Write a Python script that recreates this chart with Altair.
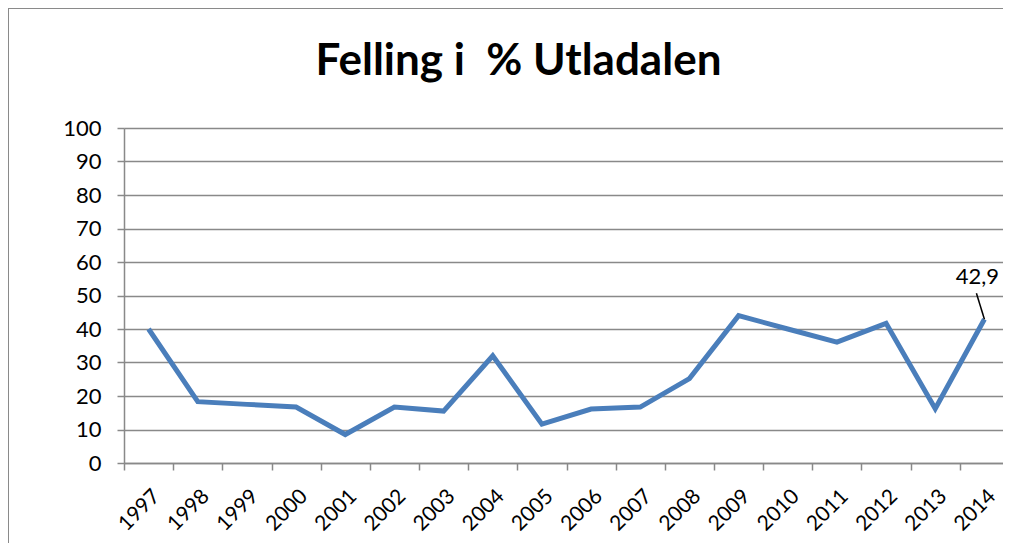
import altair as alt
import pandas as pd

years = list(range(1997, 2015))
values = [40.0, 18.3, 17.5, 16.7, 8.5, 16.7, 15.5, 32.0, 11.6, 16.1, 16.7, 25.2, 44.0, 40.0, 36.1, 41.7, 16.2, 42.9]
label_year = [2014]
label_value = [42.9]
label_text = ["42,9"]

df = pd.DataFrame({"year": years, "value": values})
lab = pd.DataFrame({"yq": label_year, "value": label_value, "text": label_text})

FONT = "Lato"
GRAY = "#898989"

y_scale = alt.Scale(domain=[0, 100], nice=False)
xq_scale = alt.Scale(domain=[years[0] - 0.5, years[-1] + 0.5], nice=False, zero=False)

x_axis = alt.Axis(
    tickBand="extent",
    labelAngle=-45, labelAlign="right", labelBaseline="top",
    labelOverlap=False, labelBound=False,
    labelFont=FONT, labelFontSize=21, labelColor="#000000",
    labelPadding=15, labelOffset=0,
    tickSize=7, tickColor=GRAY, tickWidth=1.5,
    domainColor=GRAY, domainWidth=1.5, grid=False, title=None,
)
y_axis = alt.Axis(
    values=list(range(0, 101, 10)),
    labelOverlap=False,
    labelFont=FONT, labelFontSize=22, labelColor="#000000", labelPadding=16,
    tickSize=7, tickColor=GRAY, tickWidth=1.5,
    domainColor=GRAY, domainWidth=1.5,
    grid=True, gridColor=GRAY, gridWidth=1.5, title=None,
)

frame_top = alt.Chart(lab).mark_rule(stroke="#8a8a8a", strokeWidth=2).encode(
    x=alt.value(-116), x2=alt.value(1200), y=alt.value(-120)
)
frame_left = alt.Chart(lab).mark_rule(stroke="#8a8a8a", strokeWidth=2).encode(
    x=alt.value(-116), y=alt.value(-121), y2=alt.value(700)
)

line = alt.Chart(df).mark_line(color="#4A7EBB", strokeWidth=5, strokeJoin="miter").encode(
    x=alt.X("year:O", scale=alt.Scale(type="band", paddingInner=0, paddingOuter=0),
            bandPosition=0.5, axis=x_axis),
    y=alt.Y("value:Q", scale=y_scale, axis=y_axis),
)

leader = alt.Chart(lab).mark_rule(color="#000000", strokeWidth=1.5, x2Offset=-8, y2Offset=-26).encode(
    x=alt.X("yq:Q", scale=xq_scale, axis=None),
    x2="yq",
    y=alt.Y("value:Q", scale=y_scale, axis=y_axis),
    y2="value",
)

text = alt.Chart(lab).mark_text(font=FONT, fontSize=22, color="#000000", dx=-7, dy=-42).encode(
    x=alt.X("yq:Q", scale=xq_scale, axis=None),
    y=alt.Y("value:Q", scale=y_scale, axis=y_axis),
    text="text:N",
)

chart = alt.layer(frame_top, frame_left, line, leader, text).resolve_scale(x="independent").properties(
    width=885,
    height=335,
    autosize=alt.AutoSizeParams(type="none"),
    padding={"left": 116, "top": 120, "right": -6, "bottom": 80},
    title=alt.TitleParams(
        "Felling i\u00a0 % Utladalen",
        font=FONT, fontSize=44, fontWeight="bold", color="#000000",
        anchor="middle", frame="group", dx=-48, offset=-78,
    ),
).configure_view(stroke=None, strokeWidth=0).configure(background="#ffffff")

chart.save("out.html", embed_options={"renderer": "svg", "actions": False})
